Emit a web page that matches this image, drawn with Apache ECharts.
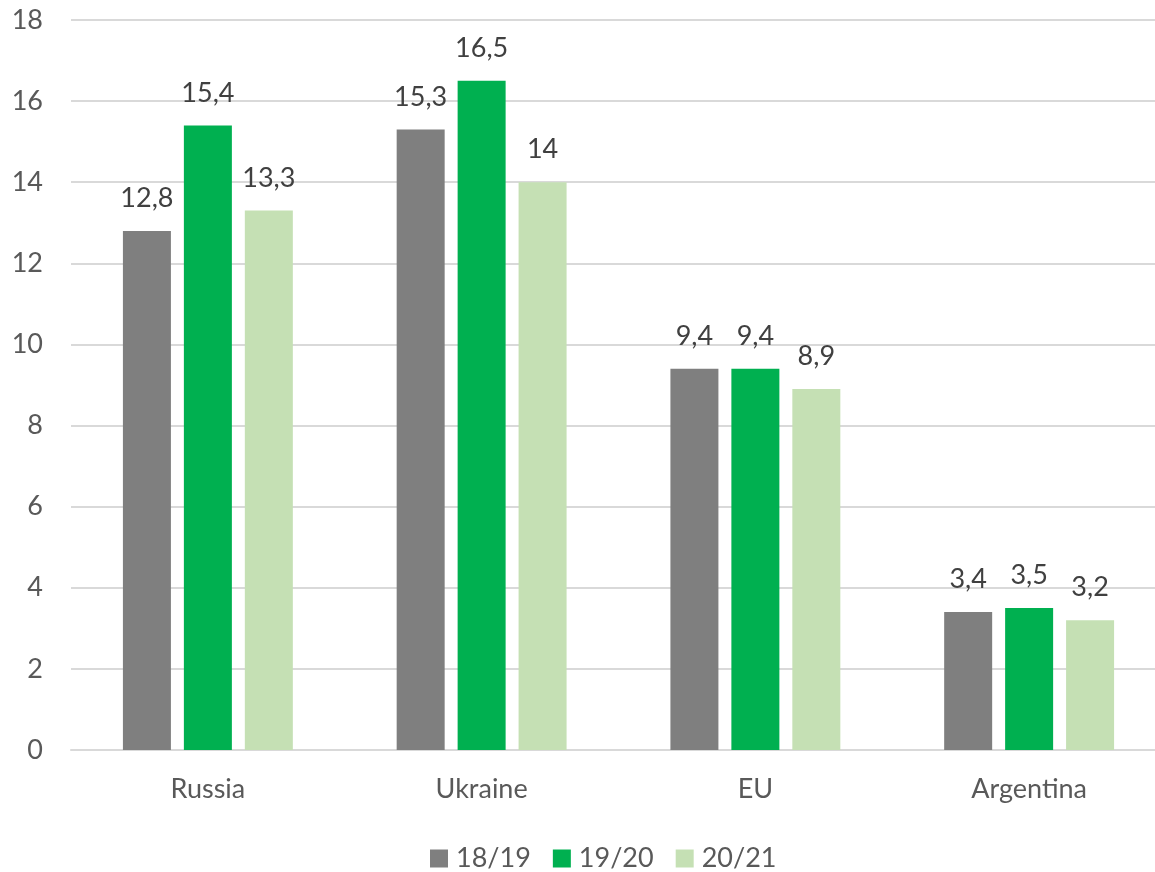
<!DOCTYPE html>
<html>
<head>
<meta charset="utf-8">
<script src="https://cdn.jsdelivr.net/npm/echarts@6/dist/echarts.min.js"></script>
<style>
  html, body { margin: 0; padding: 0; background: #fff; }
  #main { width: 1155px; height: 872px; }
</style>
</head>
<body>
<div id="main"></div>
<script>
var countries = ['Russia', 'Ukraine', 'EU', 'Argentina'];
var seasons = ['18/19', '19/20', '20/21'];
var s1819 = [12.8, 15.3, 9.4, 3.4];
var s1920 = [15.4, 16.5, 9.4, 3.5];
var s2021 = [13.3, 14, 8.9, 3.2];
var yTicks = [0, 2, 4, 6, 8, 10, 12, 14, 16, 18];
var colors = ['#7f7f7f', '#00b050', '#c5e0b4'];

var font = 'Lato, "Open Sans", sans-serif';
var chart = echarts.init(document.getElementById('main'));

function makeSeries(name, data, color) {
	return {
		name: name,
		type: 'bar',
		data: data,
		barWidth: 48,
		barGap: '27%',
		itemStyle: { color: color },
		label: {
			show: true,
			position: 'top',
			distance: 19,
			color: '#404040',
			fontSize: 27,
			fontFamily: font,
			formatter: function (p) {
				return String(p.value).replace('.', ',');
			}
		}
	};
}

option = {
	animation: false,
	color: colors,
	grid: {
		left: 71,
		top: 20,
		width: 1095,
		height: 730,
		outerBoundsMode: 'none',
		containLabel: false
	},
	legend: {
		data: seasons,
		left: 425,
		top: 840,
		itemWidth: 18,
		itemHeight: 18,
		itemGap: 22,
		icon: 'rect',
		textStyle: { color: '#595959', fontSize: 27, fontFamily: font, padding: [0, 0, 0, 3] }
	},
	xAxis: {
		type: 'category',
		data: countries,
		axisLine: { lineStyle: { color: '#d9d9d9', width: 2 } },
		axisTick: { show: false },
		axisLabel: { color: '#595959', fontSize: 27, fontFamily: font, margin: 26 }
	},
	yAxis: {
		type: 'value',
		min: yTicks[0],
		max: yTicks[yTicks.length - 1],
		interval: 2,
		axisLine: { show: false },
		axisTick: { show: false },
		axisLabel: { color: '#595959', fontSize: 27, fontFamily: font, margin: 28 },
		splitLine: { lineStyle: { color: '#d9d9d9', width: 2 } }
	},
	series: [
		makeSeries(seasons[0], s1819, colors[0]),
		makeSeries(seasons[1], s1920, colors[1]),
		makeSeries(seasons[2], s2021, colors[2])
	]
};
chart.setOption(option);
</script>
</body>
</html>
